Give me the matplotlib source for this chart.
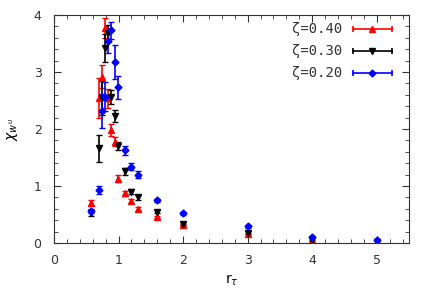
import numpy as np
import matplotlib
matplotlib.use("Agg")
import matplotlib.pyplot as plt
from matplotlib.ticker import MultipleLocator

# r_tau grid shared by the three series
r_tau = [0.58, 0.70, 0.74, 0.79, 0.84, 0.89, 0.94, 0.99, 1.10, 1.19, 1.30, 1.59, 2.0, 3.0, 4.0, 5.0]

chi_040 = [0.70, 2.54, 2.92, 3.77, 2.54, 1.98, 1.78, 1.13, 0.87, 0.74, 0.60, 0.46, 0.32, 0.15, 0.04, 0.01]
err_040 = [0.05, 0.35, 0.20, 0.17, 0.17, 0.10, 0.08, 0.06, 0.04, 0.03, 0.03, 0.02, 0.02, 0.02, 0.02, 0.02]

chi_030 = [0.52, 1.66, 2.55, 3.42, 3.68, 2.56, 2.23, 1.70, 1.26, 0.90, 0.80, 0.55, 0.34, 0.18, 0.06, 0.02]
err_030 = [0.04, 0.24, 0.30, 0.25, 0.15, 0.12, 0.10, 0.07, 0.06, 0.04, 0.04, 0.03, 0.03, 0.03, 0.02, 0.02]

chi_020 = [0.56, 0.93, 2.32, 2.57, 3.54, 3.73, 3.18, 2.73, 1.63, 1.34, 1.20, 0.75, 0.52, 0.29, 0.11, 0.05]
err_020 = [0.04, 0.07, 0.30, 0.25, 0.20, 0.15, 0.30, 0.20, 0.08, 0.06, 0.06, 0.03, 0.02, 0.02, 0.02, 0.02]

labels = ['ζ=0.40', 'ζ=0.30', 'ζ=0.20']
colors = ['#ff0000', 'black', '#0000ff']
markers = ['^', 'v', 'D']
msizes = [4.5, 4.5, 3.5]

fig = plt.figure(figsize=(4.36, 3.05), dpi=100)
ax = fig.add_axes([54/436, 62/305, 355/436, 228/305])

series = [(chi_040, err_040), (chi_030, err_030), (chi_020, err_020)]
for (y, e), c, m, ms in zip(series, colors, markers, msizes):
    ax.errorbar(r_tau, y, yerr=e, fmt=m, color=c, ms=ms,
                capsize=2, elinewidth=1.2)

# gnuplot-like key: text on the left, horizontal error bar sample on the right
key_y = [0.938, 0.842, 0.746]
for lab, c, m, ms, ky in zip(labels, colors, markers, msizes, key_y):
    ax.text(0.813, ky, lab, transform=ax.transAxes, ha='right', va='center',
            family='DejaVu Sans Mono', fontsize=10, color='#333333')
    ax.plot([0.842, 0.952], [ky, ky], color=c, lw=1.2, transform=ax.transAxes,
            clip_on=False)
    ax.plot([0.842, 0.952], [ky, ky], ls='none', marker='|', ms=4.5, mew=1.2,
            color=c, transform=ax.transAxes, clip_on=False)
    ax.plot([0.897], [ky], ls='none', marker=m, ms=ms, color=c,
            transform=ax.transAxes, clip_on=False)

ax.set_xlim(0, 5.5)
ax.set_ylim(0, 4)
ax.xaxis.set_major_locator(MultipleLocator(1))
ax.xaxis.set_minor_locator(MultipleLocator(0.2))
ax.yaxis.set_major_locator(MultipleLocator(1))
ax.yaxis.set_minor_locator(MultipleLocator(0.2))
ax.tick_params(which='both', direction='in', top=True, right=True,
               labelsize=9, labelcolor='#333333', color='#333333')
ax.tick_params(which='major', length=5)
ax.tick_params(which='minor', length=3)
ax.tick_params(axis='x', pad=8)
ax.tick_params(axis='y', pad=9)
for s in ax.spines.values():
    s.set_color('#333333')

ax.set_xlabel(r'$\mathrm{r}_{\tau}$', fontsize=10, labelpad=4)
ax.set_ylabel(r'$\chi_{w^u}$', fontsize=10, labelpad=10)

fig.savefig('out.png', dpi=100)
